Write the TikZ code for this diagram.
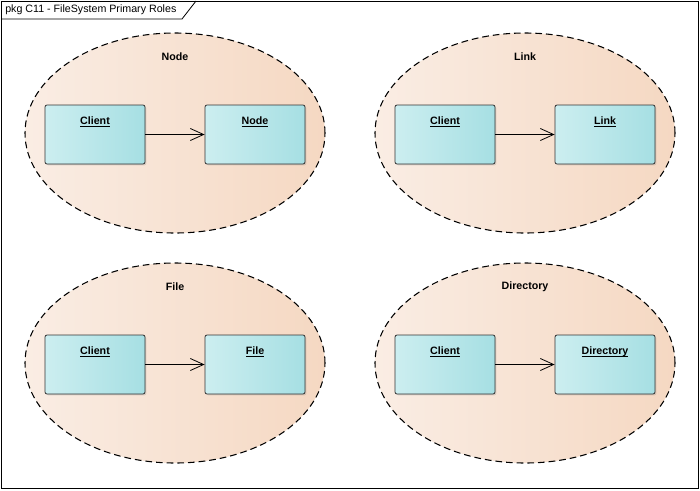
\documentclass[tikz,border=0pt]{standalone}
\usepackage{fontspec}
\setmainfont{Liberation Sans}
\usetikzlibrary{arrows.meta,shadows,shapes.geometric}
\definecolor{ellL}{RGB}{250,237,228}
\definecolor{ellR}{RGB}{245,216,194}
\definecolor{boxL}{RGB}{204,238,240}
\definecolor{boxR}{RGB}{166,223,227}
\tikzset{
  pkgell/.style={shape=ellipse, draw=black, dash pattern=on 5pt off 3pt, line width=0.8pt, left color=ellL, right color=ellR,
    minimum width=225pt, minimum height=150pt, inner sep=0pt},
  classbox/.style={draw=black!80, line width=0.6pt, rounded corners=1.5pt, left color=boxL, right color=boxR,
    minimum width=75pt, minimum height=44.25pt, drop shadow={shadow xshift=1pt, shadow yshift=-1pt, opacity=0.25}},
  boxlabel/.style={font=\fontsize{8}{9}\selectfont\bfseries, anchor=base, inner sep=0pt},
  pkglabel/.style={font=\fontsize{8}{9}\selectfont\bfseries},
  assoc/.style={-{Straight Barb[length=10pt,width=9pt,line width=0.6pt]}, line width=0.6pt}
}
\newcommand{\pkgquad}[5]{%
  \node[pkgell] (#3ell) at (#1,#2) {};
  \node[pkglabel] (#3lab) at (#1,#2-76) {#4};
  \node[classbox] (#3cli) at (#1-80,#2+1.5) {};
  \node[classbox] (#3tgt) at (#1+80,#2+1.5) {};
  \node[boxlabel] (#3clit) at (#1-80,#2-8.5) {\underline{\smash{Client}}};
  \node[boxlabel] (#3tgtt) at (#1+80,#2-8.5) {\underline{\smash{#5}}};
  \draw[assoc] (#3cli.east) -- (#3tgt.west);
}
\begin{document}
\begin{tikzpicture}[x=0.75pt,y=-0.75pt]
\useasboundingbox (0,0) rectangle (700,490);
\fill[white] (0,0) rectangle (700,490);
\draw[line width=0.6pt] (1,1) rectangle (698,488);
\draw[line width=0.6pt] (1,19) -- (182,19) -- (196,1);
\node[anchor=west, font=\fontsize{8}{9}\selectfont, inner sep=0pt] (title) at (5,10) {pkg C11 - FileSystem Primary Roles};
\pkgquad{175}{133}{a}{Node}{Node}
\pkgquad{525}{133}{b}{Link}{Link}
\pkgquad{175}{363}{c}{File}{File}
\pkgquad{525}{363}{d}{Directory}{Directory}
\end{tikzpicture}
\end{document}
